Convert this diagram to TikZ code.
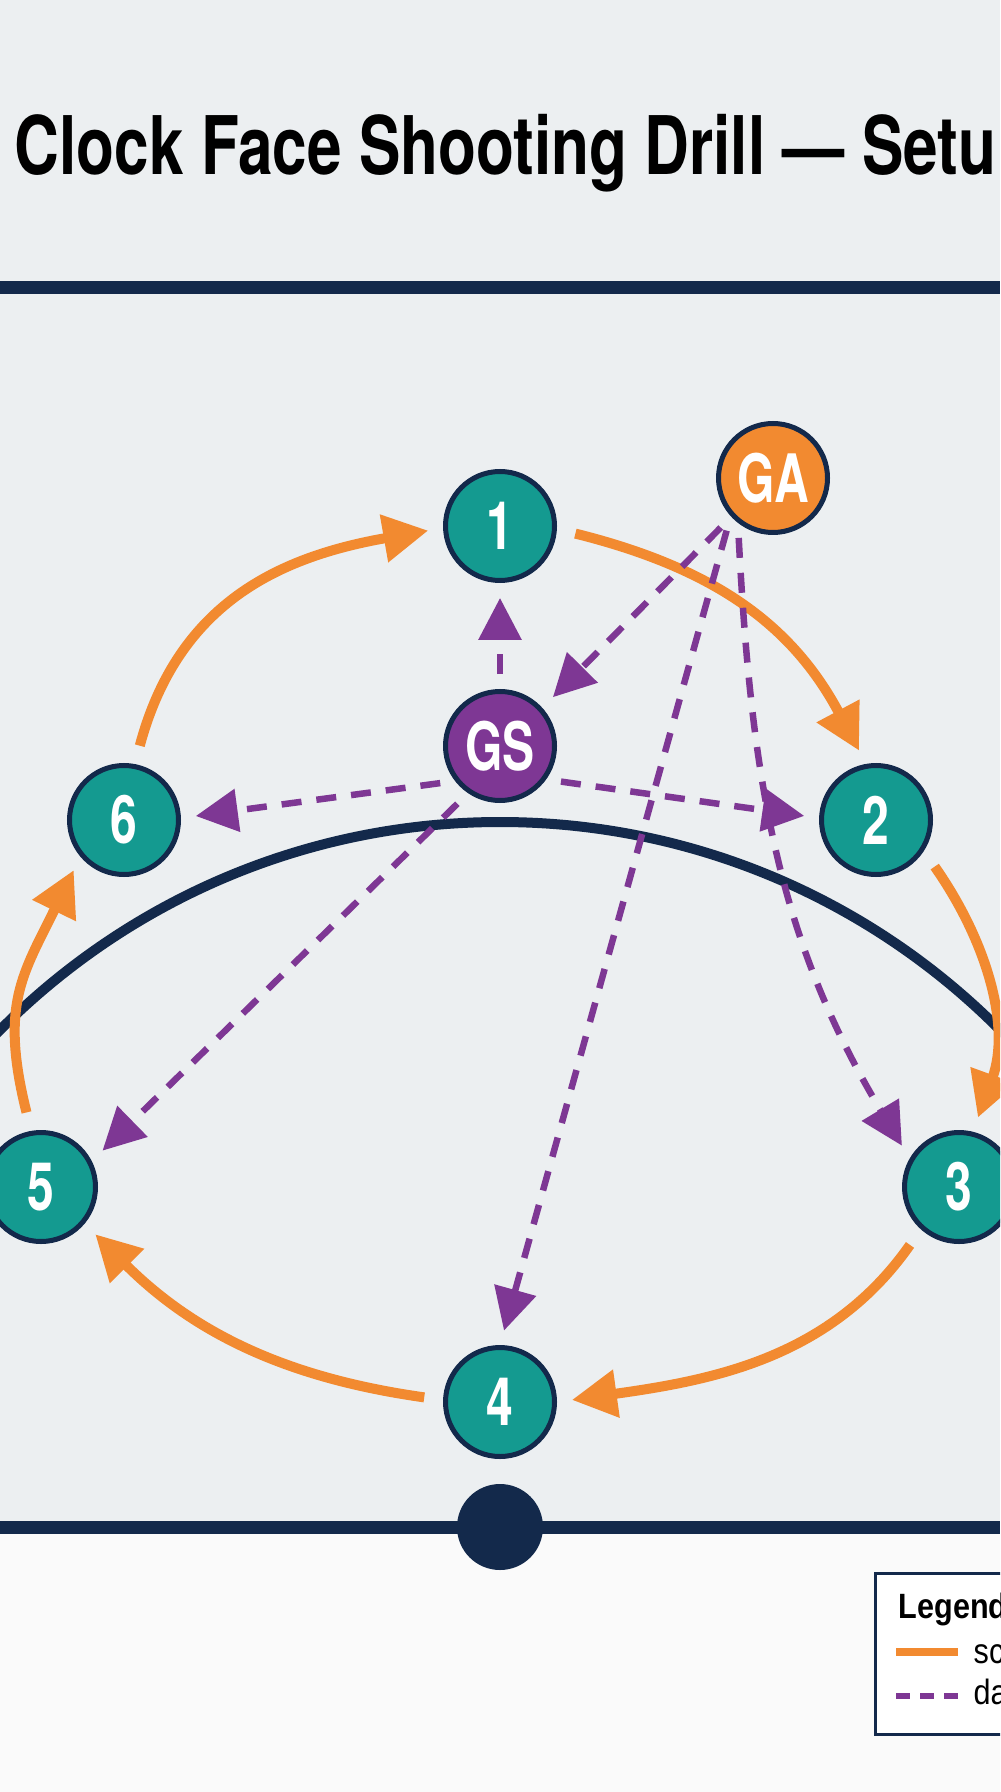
\documentclass[tikz,border=0pt]{standalone}
\usepackage{fontspec}
\usepackage{xcolor}
\usetikzlibrary{arrows.meta}

\setmainfont{Liberation Sans}
\newfontfamily\titlefont{TeX Gyre Heros}[FakeStretch=0.768]
\newfontfamily\numfont{TeX Gyre Heros}[FakeStretch=0.72]
\newfontfamily\legfont{Liberation Sans}[FakeStretch=0.87]

\definecolor{ctteal}{RGB}{20,154,144}
\definecolor{ctnavy}{RGB}{19,41,75}
\definecolor{ctorange}{RGB}{242,138,48}
\definecolor{ctpurple}{RGB}{126,55,148}
\definecolor{ctgrey}{RGB}{236,239,241}
\definecolor{ctwhite}{RGB}{250,250,250}

\begin{document}
\begin{tikzpicture}[x=0.1mm,y=-0.1mm,
    player/.style={circle, draw=ctnavy, line width=0.5mm, fill=ctteal, minimum size=10.9mm,
        inner sep=0pt, text=white, font=\numfont\bfseries\fontsize{19}{19}\selectfont},
    runarrow/.style={draw=ctorange, line width=1mm, -{Triangle[length=4.5mm,width=4.6mm]},
        shorten <=1.9mm, shorten >=1.5mm},
    passarrow/.style={draw=ctpurple, line width=0.65mm, dash pattern=on 2mm off 1.5mm,
        -{Triangle[length=4.2mm,width=4.2mm]}, shorten <=1.5mm, shorten >=1.5mm},
    courtline/.style={draw=ctnavy, line width=1.3mm}]
            \useasboundingbox (0,0) rectangle (1000,1792);
            \clip (0,0) rectangle (1000,1792);
            \fill[ctgrey] (0,0) rectangle (1000,1527);
            \fill[ctwhite] (0,1527) rectangle (1000,1792);
            % title and court
            \node[anchor=base west, inner sep=0pt, font=\titlefont\bfseries\fontsize{23}{23}\selectfont]
                (title) at (14,175) {Clock Face Shooting Drill — Setu};
            \draw[courtline] (0,288) -- (1000,288);
            \draw[courtline] (0,1527) -- (1000,1527);
            \draw[ctnavy, line width=1mm] (500,1527) ++(0:70.5mm) arc[start angle=0, end angle=180, radius=70.5mm];
            \fill[ctnavy] (500,1527) circle[radius=4.3mm];
            % players
            \node[player] (p1) at (500,526) {1};
            \node[player] (p2) at (876,820) {2};
            \node[player] (p3) at (959,1187) {3};
            \node[player] (p4) at (500,1402) {4};
            \node[player] (p5) at (41,1187) {5};
            \node[player] (p6) at (124,820) {6};
            \node[player, fill=ctpurple] (gs) at (500,746) {GS};
            \node[player, fill=ctorange] (ga) at (773,478) {GA};
            % rotation
            \foreach \s/\t/\a/\b/\o/\i/\l in {p6/p1/79/182/75/190/1.1, p1/p2/-3/100/-14/118/1.05,
                p2/p3/-33/76/-55/70/1, p3/p4/228/0/235/8/1, p4/p5/178/-40/172/-45/1, p5/p6/100/220/104/244/1.2}
            {
                \draw[runarrow] (\s.\a) to[out=\o, in=\i, looseness=\l] (\t.\b);
            }
            % passes
            \draw[passarrow] (gs.90) -- (p1.270);
            \draw[passarrow] (gs.218) -- (p6.2);
            \draw[passarrow] (gs.-36) -- (p2.178);
            \draw[passarrow] (gs.236) -- (p5.27);
            \draw[passarrow] (ga.223) -- (gs.42);
            \draw[passarrow] (ga.222) -- (p4.90);
            \draw[passarrow] (ga.232) to[out=-87, in=121] (p3.150);
            % legend
            \draw[ctnavy, line width=0.3mm, fill=white] (875,1573) rectangle (1030,1734);
            \node[anchor=base west, inner sep=0pt, font=\legfont\bfseries\fontsize{10}{10}\selectfont]
                (leghead) at (898,1618) {Legend};
            \draw[ctorange, line width=0.8mm] (896,1652) -- (958,1652);
            \draw[ctpurple, line width=0.65mm, dash pattern=on 1.4mm off 1mm] (896,1696) -- (958,1696);
            \node[anchor=base west, inner sep=0pt, font=\legfont\fontsize{10}{10}\selectfont]
                (legrun) at (973,1663) {sc};
            \node[anchor=base west, inner sep=0pt, font=\legfont\fontsize{10}{10}\selectfont]
                (legpass) at (973,1704) {da};
        \end{tikzpicture}
\end{document}
